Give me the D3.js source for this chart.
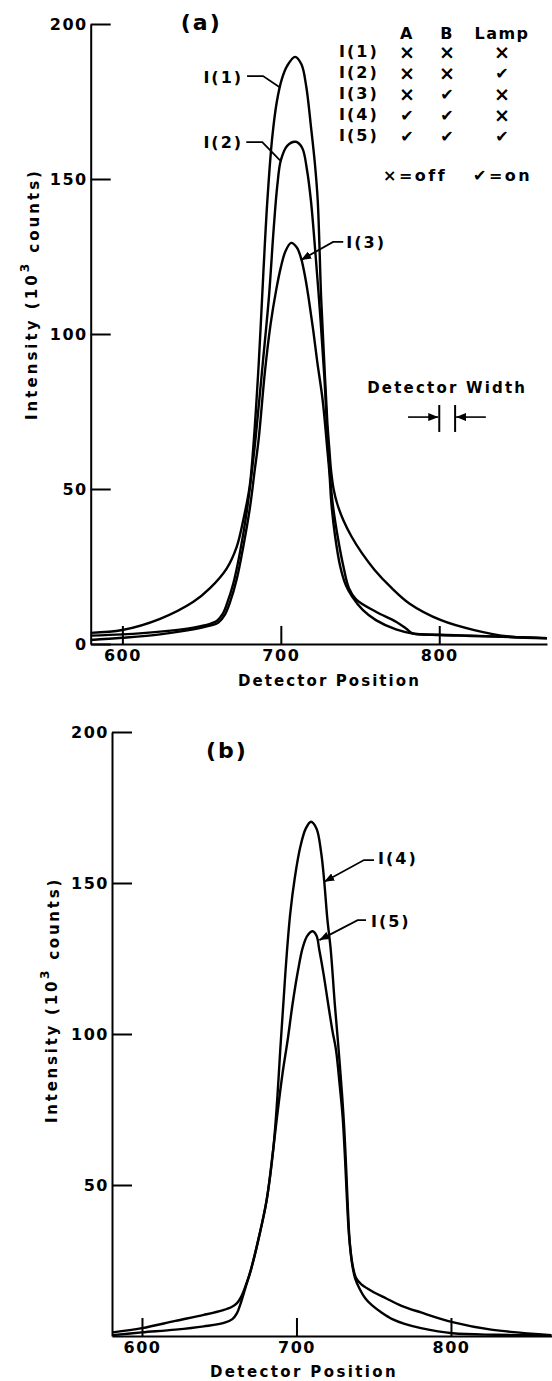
<!DOCTYPE html>
<html>
<head>
<meta charset="utf-8">
<script src="https://cdn.jsdelivr.net/npm/d3@7"></script>
<style>
  body { margin: 0; background: #fff; }
  svg { display: block; }
  text { font-family: "DejaVu Sans", sans-serif; fill: #000; }
</style>
</head>
<body>
<div id="chart"></div>
<script>
// ---- data (detector position, 10^3 counts) ----
const xTicks = [600, 700, 800];
const yTicksA = [0, 50, 100, 150, 200];
const yTicksB = [50, 100, 150, 200];

const I1 = [[580,3.6],[600,4.5],[623.8,8.1],[644.8,13.6],[655.3,18],[665.9,24.4],[672.2,31.4],[676.3,40],
  [680.3,50.7],[682.5,62.6],[686,90],[689,120],[691.5,143],[694.5,163],[697.5,175],[700.5,182],[704,186.5],[709,189.4],
  [713,187],[716,180],[719,167],[721.5,155],[723.3,143],[725.5,111],[727.5,90],[729.3,72],[730.6,63],
  [731.7,56],[733.3,50],[735.5,45.4],[739.4,40],[744.7,34.6],[751.2,29.3],[759.2,23.9],[769.1,18.5],
  [781.1,13.1],[801.1,7.7],[822.1,4.5],[844.2,2.4],[868,1.8]];

const I2 = [[580,2.7],[600,3.1],[623.8,4],[644.8,5.3],[655.3,6.5],[659.6,7.4],[663.2,9.6],[666,13],[670,19.5],
  [674.3,29.8],[678.5,42.7],[681.8,56],[684,66],[688.5,90],[692.5,112],[695.5,134],[697.8,148],[700,156],
  [704,160.7],[709.5,162],[713.5,160],[716.5,153],[719,143],[722,125],[725,105],[727.5,86],[729.3,68],
  [730.8,56],[732.7,45.4],[735.9,34.6],[739.5,25],[743,18],[747.5,14.4],[760,10.4],[772.7,7.2],
  [779,5],[783.2,3.4],[800,3],[820,2.7],[845,2.3],[868,1.9]];

const I3 = [[580,1.3],[600,2],[623.8,3.1],[644.8,4.7],[655.3,5.9],[660.6,6.9],[664.6,9.4],[668,13.6],[672.2,21],
  [676.3,31.4],[680.6,44.3],[683.5,56],[686,66],[690,88],[693.5,103],[697,114],[700,121.5],[703,126.8],
  [706.5,129.4],[710,128],[712.8,124.4],[715.5,118],[718,110],[720.5,101],[723,91],[726.4,78.7],
  [729.3,63],[730.7,55],[731.9,45.4],[734.3,34.6],[737.5,25],[741,19],[745,15.3],[751.7,11],
  [760,7.7],[772.7,4.7],[783.2,3.4],[800,2.9],[820,2.6],[845,2.2],[868,1.9]];

const I4 = [[581,1.2],[600,2.6],[621.6,5],[640,7],[652,8.5],[658,9.6],[661.5,10.9],[664,12.8],[667,16.5],
  [670.5,21.9],[676,33.4],[680.7,45],[685,62],[687.5,78],[689.5,94.7],[691.5,110],[693.5,125],[696,140],
  [699,152],[702.5,162],[706,168],[709.4,170.3],[713,168],[716,160],[718,150.4],[720,138],[722.2,127.8],
  [724.8,110],[727.3,94.7],[729.5,80],[731,68],[732.3,54],[733.3,42],[734.5,31],[736.3,23.5],[738.5,19.3],
  [742,17.1],[750,14.5],[757.9,12.5],[768,10],[780.6,7.8],[801,4.6],[826,2.1],[865,0.3]];

const I5 = [[581,0.3],[600,1.2],[621.6,2.1],[640,3.2],[653.5,4.4],[658.5,5.6],[661.5,7.6],[664,11],[667,16],
  [670.5,21.9],[676,33.4],[680.7,45],[685,62],[688,75],[691,87],[694.3,98],[697.5,110],[701,121],
  [704,128.5],[707,132.5],[710.5,134],[713,132.5],[714.8,127.8],[717.5,120],[720.5,110],[723.3,101],
  [725.6,94.7],[728,83],[729.9,72.5],[731.5,58],[732.7,45],[734,33.4],[736,24],[738,19],[741,15.5],
  [744.5,12.5],[748.8,10.2],[755,7.8],[762.4,5.5],[770,4],[780.6,2.6],[801,0.9],[830,0.4],[865,0.2]];

// switch table: 1 = on (check), 0 = off (cross)
const tableRows = ["I(1)", "I(2)", "I(3)", "I(4)", "I(5)"];
const tableCols = ["A", "B", "Lamp"];
const stateA = [0, 0, 0, 1, 1];
const stateB = [0, 0, 1, 1, 1];
const stateLamp = [0, 1, 0, 0, 1];

// ---- layout ----
const W = 552, H = 1381;
const PANEL_A = { left: 90.7, right: 547, top: 24, bottom: 644, xDomain: [580, 868] };
const PANEL_B = { left: 112, right: 552, top: 732, bottom: 1336, xDomain: [580.6, 865.4] };
const MONO = "'DejaVu Sans Mono', monospace";

const svg = d3.select("#chart").append("svg")
  .attr("width", W)
  .attr("height", H);

svg.append("defs").append("marker")
  .attr("id", "arrow")
  .attr("viewBox", "0 0 10 8")
  .attr("refX", 10).attr("refY", 4)
  .attr("markerWidth", 10).attr("markerHeight", 8)
  .attr("markerUnits", "userSpaceOnUse")
  .attr("orient", "auto")
  .append("path").attr("d", "M0,0 L10,4 L0,8 Z").attr("fill", "#000");

// stretch a text to a given width by letter spacing
function spread(sel, width) {
  sel.each(function() {
    const n = this.getNumberOfChars();
    const len = this.getComputedTextLength();
    d3.select(this).attr("letter-spacing", ((width - len) / n).toFixed(2));
  });
}

function drawPanel(cfg, series, yTicks, notes, title, yLabelPos, xLabelPos) {
  const x = d3.scaleLinear().domain(cfg.xDomain).range([cfg.left, cfg.right]);
  const y = d3.scaleLinear().domain([0, 200]).range([cfg.bottom, cfg.top]);
  const g = svg.append("g");

  // axes, ticks point into the plot
  const xAxis = g.append("g")
    .attr("transform", `translate(0, ${cfg.bottom})`)
    .call(d3.axisBottom(x).tickValues(xTicks).tickSizeInner(-18).tickSizeOuter(0).tickPadding(6));
  const yAxis = g.append("g")
    .attr("transform", `translate(${cfg.left}, 0)`)
    .call(d3.axisLeft(y).tickValues(yTicks).tickSizeInner(-20).tickSizeOuter(0).tickPadding(3));

  [xAxis, yAxis].forEach(a => {
    a.attr("font-family", null).attr("font-size", null);
    a.selectAll("path, line").attr("stroke", "#000").attr("stroke-width", 2);
    a.selectAll("text").attr("font-size", "16px").attr("font-weight", "bold").attr("letter-spacing", "1.5");
  });

  // curves
  const line = d3.line().x(d => x(d[0])).y(d => y(d[1])).curve(d3.curveCatmullRom.alpha(0.5));
  g.selectAll(".curve").data(series).enter().append("path")
    .attr("class", "curve")
    .attr("d", line)
    .attr("fill", "none")
    .attr("stroke", "#000")
    .attr("stroke-width", 2.4)
    .attr("stroke-linejoin", "round");

  // labels with leader lines
  notes.forEach(n => {
    g.append("path")
      .attr("d", d3.line().x(d => x(d[0])).y(d => y(d[1]))(n.leader))
      .attr("fill", "none").attr("stroke", "#000").attr("stroke-width", 1.8)
      .attr("marker-end", n.arrow ? "url(#arrow)" : null);
    g.append("text")
      .attr("x", x(n.at[0])).attr("y", y(n.at[1]))
      .attr("text-anchor", n.anchor)
      .attr("dominant-baseline", "central")
      .attr("font-family", MONO).attr("font-weight", "bold")
      .attr("font-size", "16px").attr("letter-spacing", "2")
      .text(n.label);
  });

  g.append("text")
    .attr("x", x(title.at[0])).attr("y", y(title.at[1]))
    .attr("text-anchor", "middle").attr("dominant-baseline", "central")
    .attr("font-size", "22px").attr("font-weight", "bold").attr("letter-spacing", "2")
    .text(title.text);

  // axis titles
  const xl = g.append("text")
    .attr("x", xLabelPos[0]).attr("y", xLabelPos[1])
    .attr("text-anchor", "middle").attr("dominant-baseline", "central")
    .attr("font-size", "15px").attr("font-weight", "bold")
    .text("Detector Position");
  spread(xl, xLabelPos[2]);

  const yl = g.append("text")
    .attr("transform", `translate(${yLabelPos[0]}, ${yLabelPos[1]}) rotate(-90)`)
    .attr("text-anchor", "middle").attr("dominant-baseline", "central")
    .attr("font-size", "15px").attr("font-weight", "bold");
  yl.append("tspan").text("Intensity (10");
  yl.append("tspan").attr("dy", "-0.55em").attr("font-size", "12px").text("3");
  yl.append("tspan").attr("dy", "0.55em").text(" counts)");
  spread(yl, yLabelPos[2]);

  return { x, y, g };
}

const notesA = [
  { label: "I(1)", at: [676.2, 182.9], anchor: "end", leader: [[678.7, 183.2], [688.8, 183.2], [699.5, 179.5]], arrow: false },
  { label: "I(2)", at: [676.2, 161.9], anchor: "end", leader: [[678.2, 161.9], [688.3, 161.9], [699.5, 156]], arrow: false },
  { label: "I(3)", at: [741.3, 129.4], anchor: "start", leader: [[739.4, 129.7], [733, 129.7], [712.8, 123.9]], arrow: true }
];
const notesB = [
  { label: "I(4)", at: [752.8, 158], anchor: "start", leader: [[750.2, 157.6], [743.7, 157.6], [718, 150.4]], arrow: true },
  { label: "I(5)", at: [748.2, 137.4], anchor: "start", leader: [[745, 137.7], [739.6, 137.7], [714.8, 131.1]], arrow: true }
];

const pa = drawPanel(PANEL_A, [I1, I2, I3], yTicksA, notesA,
  { text: "(a)", at: [649.8, 200.6] }, [32, 294, 252], [329.5, 681, 183]);
const pb = drawPanel(PANEL_B, [I4, I5], yTicksB, notesB,
  { text: "(b)", at: [655, 194] }, [52, 1000, 246], [304, 1372, 188]);

// ---- switch table in panel (a) ----
const colX = [407, 447, 502];
const rowY = [51, 72, 93, 114, 135];
const states = [stateA, stateB, stateLamp];
const table = svg.append("g").attr("font-size", "16px").attr("font-weight", "bold");

table.selectAll(".col").data(tableCols).enter().append("text")
  .attr("x", (d, i) => colX[i]).attr("y", 33)
  .attr("text-anchor", "middle").attr("dominant-baseline", "central")
  .attr("letter-spacing", 1.5)
  .text(d => d);

table.selectAll(".row").data(tableRows).enter().append("text")
  .attr("x", 339).attr("y", (d, i) => rowY[i])
  .attr("dominant-baseline", "central").attr("letter-spacing", 2)
  .attr("font-family", MONO)
  .text(d => d);

states.forEach((col, c) => {
  table.selectAll(null).data(col).enter().append("text")
    .attr("x", colX[c]).attr("y", (d, i) => rowY[i] + 1)
    .attr("text-anchor", "middle").attr("dominant-baseline", "central")
    .attr("font-size", d => d ? "16px" : "19px")
    .text(d => d ? "\u2714" : "\u00d7");
});

table.append("text").attr("x", 383).attr("y", 175).attr("dominant-baseline", "central")
  .attr("letter-spacing", 2.5).text("\u00d7=off");
table.append("text").attr("x", 473).attr("y", 175).attr("dominant-baseline", "central")
  .attr("letter-spacing", 2.5).text("\u2714=on");

// ---- detector width marker (in data units of panel a) ----
const detWidth = [800, 810];
const xa = pa.x, ya = pa.y;
const dw = svg.append("g").attr("stroke", "#000").attr("stroke-width", 2);
dw.selectAll("line.bar").data(detWidth).enter().append("line")
  .attr("x1", d => xa(d)).attr("x2", d => xa(d))
  .attr("y1", ya(77.1)).attr("y2", ya(68.4));
dw.append("line").attr("x1", xa(780.3)).attr("x2", xa(detWidth[0]) - 1)
  .attr("y1", ya(73.2)).attr("y2", ya(73.2)).attr("stroke-width", 1.6).attr("marker-end", "url(#arrow)");
dw.append("line").attr("x1", xa(829.4)).attr("x2", xa(detWidth[1]) + 1)
  .attr("y1", ya(73.2)).attr("y2", ya(73.2)).attr("stroke-width", 1.6).attr("marker-end", "url(#arrow)");
const dwl = svg.append("text")
  .attr("x", xa(805)).attr("y", ya(82.6))
  .attr("text-anchor", "middle").attr("dominant-baseline", "central")
  .attr("font-size", "15px").attr("font-weight", "bold")
  .text("Detector Width");
spread(dwl, 160);
</script>
</body>
</html>
